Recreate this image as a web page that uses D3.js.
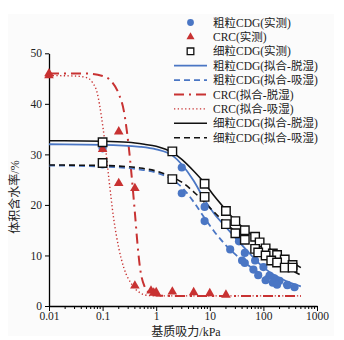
<!DOCTYPE html>
<html lang="zh">
<head>
<meta charset="UTF-8">
<title>土水特征曲线</title>
<script src="https://d3js.org/d3.v7.min.js"></script>
<style>
  body { margin: 0; background: #fff; }
  svg text { font-family: "Liberation Serif", "Noto Sans CJK SC", serif; fill: #222; }
</style>
</head>
<body>
<div id="chart"></div>
<script>
// measured points [suction kPa, volumetric water content %]
const coarseDryObs = [[0.1,31.2],[3,27.4],[8,19.6],[35,12.8],[45,10.5],[70,9.0],[100,7.7],[130,6.0],[160,5.5],[200,5.0],[280,4.2],[380,3.7]];
const coarseWetObs = [[0.1,28.0],[3,22.3],[8,16.8],[24,11.2],[40,9.0],[45,8.5],[65,7.2],[80,6.1],[110,5.1],[150,4.6],[180,4.2],[280,4.1]];
const crcObs = [[0.01,46.0],[0.01,45.6],[0.1,31.0],[0.2,34.5],[0.2,24.3],[0.4,23.3],[0.4,4.0],[0.8,3.0],[0.9,2.6],[1,2.7],[2,2.8],[5,2.7],[10,2.5],[20,2.2]];
const fineDryObs = [[0.1,32.4],[2,30.6],[8,24.2],[20,18.8],[30,16.8],[45,15.0],[70,13.7],[85,12.6],[110,11.4],[150,10.4],[180,10.1],[250,9.2],[350,8.1]];
const fineWetObs = [[0.1,28.3],[2,25.1],[8,21.6],[20,16.2],[30,14.4],[45,13.1],[70,11.3],[80,10.6],[110,10.0],[140,9.0],[180,8.6],[250,7.6],[350,7.6]];

// fitted curves
const coarseDryFit = [[0.01,32.0],[0.1,31.9],[0.5,31.5],[1,31.0],[2,29.8],[3,28.0],[5,24.8],[8,21.0],[12,18.3],[20,15.6],[30,13.5],[50,10.9],[80,8.6],[120,7.0],[200,5.6],[300,4.7],[500,3.9]];
const coarseWetFit = [[0.01,27.8],[0.1,27.6],[0.5,27.0],[1,26.4],[2,25.0],[3,23.5],[5,20.6],[8,17.4],[12,14.8],[20,12.0],[30,10.2],[50,8.2],[80,6.7],[120,5.6],[200,4.6],[300,3.9],[500,3.3]];
const crcDryFit = [[0.01,46.0],[0.05,46.0],[0.1,45.5],[0.15,44.3],[0.2,42.0],[0.25,38.5],[0.3,32.5],[0.35,25.5],[0.4,18.5],[0.45,12.0],[0.5,7.5],[0.6,4.0],[0.8,2.4],[1,2.1],[2,2.0],[500,2.0]];
const crcWetFit = [[0.01,45.6],[0.03,45.5],[0.05,45.2],[0.065,44.2],[0.08,42.0],[0.095,37.5],[0.11,32.5],[0.13,25.5],[0.16,17.5],[0.2,11.5],[0.25,7.5],[0.35,4.3],[0.5,2.6],[0.7,2.1],[1,2.0],[500,2.0]];
const fineDryFit = [[0.01,32.7],[0.1,32.6],[0.3,32.4],[0.6,32.0],[1,31.6],[1.5,31.0],[2,30.4],[3,29.0],[5,26.7],[8,24.3],[12,21.8],[20,19.0],[30,16.9],[50,14.8],[80,13.0],[120,11.6],[200,10.1],[300,9.0],[500,7.6]];
const fineWetFit = [[0.01,27.9],[0.1,27.8],[0.5,27.3],[1,26.7],[2,25.5],[3,24.5],[5,22.6],[8,20.5],[12,18.6],[20,16.3],[30,14.7],[50,12.7],[80,11.2],[120,10.0],[200,8.6],[300,7.4],[500,6.1]];

const xTicks = [0.01, 0.1, 1, 10, 100, 1000];
const yTicks = [0, 10, 20, 30, 40, 50];

const legendLabels = ['粗粒CDG(实测)', 'CRC(实测)', '细粒CDG(实测)', '粗粒CDG(拟合-脱湿)', '粗粒CDG(拟合-吸湿)',
  'CRC(拟合-脱湿)', 'CRC(拟合-吸湿)', '细粒CDG(拟合-脱湿)', '细粒CDG(拟合-吸湿)'];

const blue = '#4a76c4', red = '#c83232', black = '#111';

const W = 344, H = 340;
const x = d3.scaleLog().domain([0.01, 1000]).range([49, 317]);
const y = d3.scaleLinear().domain([0, 50]).range([306, 53.3]);

const svg = d3.select('#chart').append('svg').attr('width', W).attr('height', H);
svg.append('rect').attr('x', 8).attr('y', 14).attr('width', 326).attr('height', 322).attr('fill', '#fbfbfb');

// axes
const xAxis = d3.axisBottom(x).tickValues(xTicks).tickFormat(d => String(d)).tickSize(5).tickSizeOuter(0);
const gx = svg.append('g').attr('transform', 'translate(0,306)').call(xAxis);
// minor ticks
const minor = [];
for (let e = -2; e < 3; e++) for (let m = 2; m < 10; m++) minor.push(m * Math.pow(10, e));
gx.selectAll('.minor').data(minor).enter().append('line')
  .attr('x1', d => x(d)).attr('x2', d => x(d)).attr('y1', 0).attr('y2', 3).attr('stroke', '#000');
const gy = svg.append('g').attr('transform', 'translate(49,0)')
  .call(d3.axisLeft(y).tickValues(yTicks).tickSize(4).tickSizeOuter(0));
[gx, gy].forEach(g => {
  g.select('.domain').attr('stroke', '#000').attr('stroke-width', 1.3);
  g.selectAll('.tick line').attr('stroke', '#000');
  g.selectAll('text').attr('font-size', 11.5).attr('fill', '#222')
    .style('font-family', '"Liberation Serif", serif');
});
gx.selectAll('text').attr('dy', '0.52em');
gy.selectAll('text').attr('x', -7);

svg.append('text').attr('x', 186).attr('y', 336).attr('text-anchor', 'middle')
  .attr('font-size', 12).text('基质吸力/kPa');
svg.append('text').attr('transform', 'translate(19,197) rotate(-90)').attr('text-anchor', 'middle')
  .attr('font-size', 12).text('体积含水率/%');

// curves
const line = d3.line().x(d => x(d[0])).y(d => y(d[1])).curve(d3.curveMonotoneX);
const curves = [
  { data: crcWetFit, color: red, width: 1.4, dash: '1.3,2.4' },
  { data: crcDryFit, color: red, width: 2, dash: '10,5,2,5' },
  { data: coarseWetFit, color: blue, width: 1.8, dash: '6,4' },
  { data: coarseDryFit, color: blue, width: 1.8, dash: null },
  { data: fineWetFit, color: black, width: 1.6, dash: '6,4' },
  { data: fineDryFit, color: black, width: 1.6, dash: null }
];
curves.forEach(c => {
  svg.append('path').datum(c.data).attr('d', line).attr('fill', 'none')
    .attr('stroke', c.color).attr('stroke-width', c.width)
    .attr('stroke-dasharray', c.dash);
});

// markers
const circle = d3.symbol().type(d3.symbolCircle).size(52);
const tri = d3.symbol().type(d3.symbolTriangle).size(40);
const sq = d3.symbol().type(d3.symbolSquare).size(72);
svg.selectAll('.coarse').data(coarseDryObs.concat(coarseWetObs)).enter().append('path')
  .attr('d', circle).attr('transform', d => `translate(${x(d[0])},${y(d[1])})`).attr('fill', blue);
svg.selectAll('.crc').data(crcObs).enter().append('path')
  .attr('d', tri).attr('transform', d => `translate(${x(d[0])},${y(d[1])})`).attr('fill', red);
svg.selectAll('.fine').data(fineDryObs.concat(fineWetObs)).enter().append('path')
  .attr('d', sq).attr('transform', d => `translate(${x(d[0])},${y(d[1])})`)
  .attr('fill', '#fff').attr('stroke', black).attr('stroke-width', 1.4);

// legend
const lg = svg.append('g');
const rowY = i => 22.5 + i * 14.4;
lg.append('path').attr('d', d3.symbol().type(d3.symbolCircle).size(36))
  .attr('transform', `translate(190.5,${rowY(0)})`).attr('fill', blue);
lg.append('path').attr('d', d3.symbol().type(d3.symbolTriangle).size(28))
  .attr('transform', `translate(190.5,${rowY(1)})`).attr('fill', red);
lg.append('path').attr('d', d3.symbol().type(d3.symbolSquare).size(44))
  .attr('transform', `translate(190.5,${rowY(2)})`).attr('fill', '#fff').attr('stroke', black).attr('stroke-width', 1.3);
[[blue, 1.8, null], [blue, 1.8, '6,4'], [red, 2, '10,5,2,5'], [red, 1.4, '1.3,2.4'], [black, 1.6, null], [black, 1.6, '6,4']]
  .forEach((s, i) => {
    lg.append('line').attr('x1', 174).attr('x2', 207).attr('y1', rowY(i + 3)).attr('y2', rowY(i + 3))
      .attr('stroke', s[0]).attr('stroke-width', s[1]).attr('stroke-dasharray', s[2]);
  });
legendLabels.forEach((t, i) => {
  lg.append('text').attr('x', 213).attr('y', rowY(i)).attr('dy', '0.36em')
    .attr('font-size', 11.5).text(t);
});
</script>
</body>
</html>
